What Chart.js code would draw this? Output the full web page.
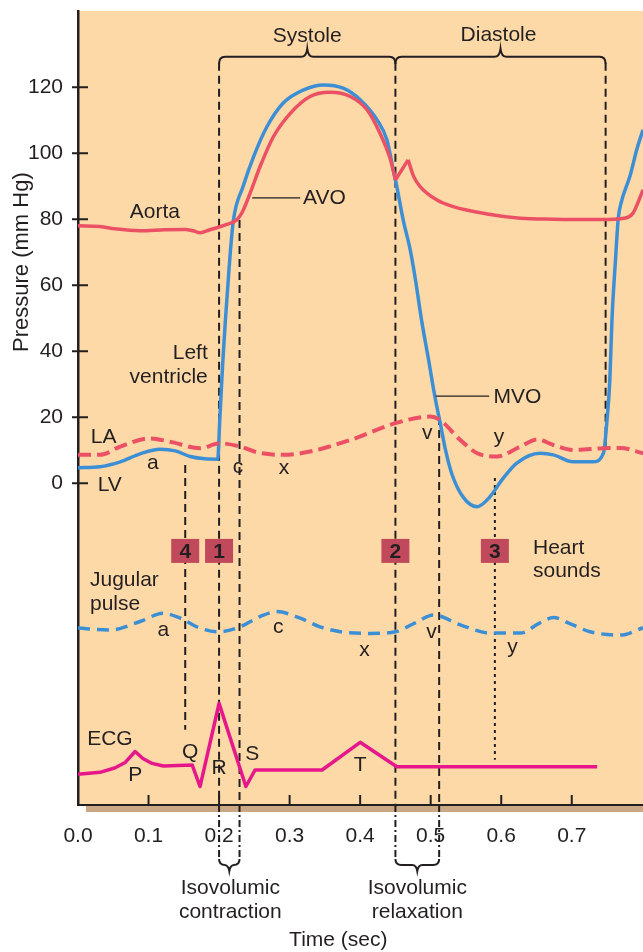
<!doctype html>
<html lang="en">
<head>
<meta charset="UTF-8">
<title>Cardiac cycle</title>
<style>
  html, body { margin: 0; padding: 0; background: #fff; }
  #wrap { width: 643px; height: 952px; }
</style>
</head>
<body>
<div id="wrap"><canvas id="chart" width="643" height="952"></canvas></div>

<script src="https://cdn.jsdelivr.net/npm/chart.js@4.4.0/dist/chart.umd.min.js"></script>
<script>
// values: time in s, pressure in mm Hg
// (jugular pulse and ECG are plotted in the panel's pressure units, where they sit)
const aortaT = [0, 0.031, 0.052, 0.088, 0.123, 0.152, 0.163, 0.173, 0.187, 0.209, 0.225, 0.232, 0.244, 0.258, 0.277, 0.301, 0.329, 0.357, 0.386, 0.410, 0.428, 0.443, 0.450, 0.468, 0.476, 0.485, 0.509, 0.532, 0.580, 0.627, 0.674, 0.740, 0.776, 0.787, 0.801];
const aortaP = [78.0, 77.8, 77.1, 76.5, 76.8, 76.9, 76.5, 75.9, 76.8, 78.3, 79.8, 81.8, 87.9, 95.9, 105.0, 112.1, 117.2, 118.5, 117.2, 113.1, 106.1, 98.0, 91.9, 98.0, 92.9, 89.9, 85.8, 83.8, 81.6, 80.3, 80.0, 79.9, 80.4, 81.9, 88.9];
const aortaCusps = [22, 23]; // incisura and dicrotic peak

const lvT = [0, 0.031, 0.060, 0.088, 0.116, 0.138, 0.159, 0.180, 0.198, 0.201, 0.205, 0.209, 0.214, 0.220, 0.234, 0.249, 0.268, 0.291, 0.320, 0.348, 0.376, 0.400, 0.424, 0.438, 0.447, 0.452, 0.461, 0.471, 0.478, 0.487, 0.497, 0.506, 0.514, 0.521, 0.530, 0.546, 0.566, 0.584, 0.601, 0.622, 0.655, 0.674, 0.702, 0.730, 0.745, 0.750, 0.754, 0.757, 0.762, 0.766, 0.770, 0.783, 0.792, 0.801];
const lvP = [4.7, 5.0, 6.5, 8.9, 10.3, 9.8, 8.1, 7.4, 7.3, 19.2, 35.8, 49.5, 64.6, 79.2, 89.9, 99.0, 108.1, 115.2, 119.2, 120.7, 119.7, 116.2, 110.1, 104.0, 94.9, 89.9, 79.8, 70.7, 62.2, 49.5, 37.4, 26.2, 17.7, 10.1, 2.8, -4.2, -7.1, -4.1, 1.0, 6.1, 9.1, 8.6, 6.5, 6.5, 9.2, 19.2, 31.3, 49.5, 67.7, 80.4, 85.0, 93.4, 101.0, 107.1];

const laT = [0, 0.031, 0.060, 0.102, 0.130, 0.173, 0.201, 0.230, 0.255, 0.291, 0.329, 0.386, 0.450, 0.499, 0.513, 0.542, 0.566, 0.594, 0.627, 0.651, 0.674, 0.702, 0.745, 0.769, 0.801];
const laP = [8.6, 8.6, 11.1, 13.6, 12.6, 10.6, 12.1, 11.1, 9.3, 8.6, 9.6, 13.1, 18.2, 20.2, 19.2, 13.1, 9.1, 8.1, 11.1, 13.3, 11.6, 10.1, 10.6, 10.7, 9.1];

const jugT = [0, 0.045, 0.088, 0.121, 0.145, 0.173, 0.199, 0.230, 0.258, 0.282, 0.315, 0.343, 0.372, 0.414, 0.450, 0.478, 0.504, 0.542, 0.584, 0.627, 0.655, 0.674, 0.698, 0.726, 0.769, 0.801];
const jugP = [-43.9, -44.5, -41.9, -39.4, -40.9, -43.9, -45.0, -43.5, -40.4, -38.9, -40.9, -43.5, -45.0, -45.5, -45.0, -42.3, -39.9, -42.9, -45.4, -45.4, -42.3, -40.7, -42.6, -45.0, -46.0, -43.8];

const ecgT = [0, 0.031, 0.052, 0.067, 0.081, 0.092, 0.105, 0.121, 0.162, 0.173, 0.200, 0.238, 0.251, 0.346, 0.400, 0.452, 0.736];
const ecgP = [-88.2, -87.6, -86.3, -84.6, -81.3, -83.4, -84.9, -85.7, -85.4, -91.9, -66.7, -91.9, -86.9, -86.9, -78.5, -85.9, -85.9];

const xTicks = [0, 0.1, 0.2, 0.3, 0.4, 0.5, 0.6, 0.7];
const yTicks = [0, 20, 40, 60, 80, 100, 120];

const soundT = [0.152, 0.200, 0.450, 0.591];
const soundNames = ['4', '1', '2', '3'];

const FONT = '"Liberation Sans", Arial, Helvetica, sans-serif';
const INK = '#231f20';
const RED = '#ec5064';
const BLUE = '#3d8fd5';

// dashed event lines: time, top and bottom (pressure units); null = down to axis
const guides = [
  {t: 0.152, from: 5.5, to: -74.7},
  {t: 0.200, from: 127.4, to: null, below: true},
  {t: 0.229, from: 79.8, to: null, below: true},
  {t: 0.450, from: 127.4, to: null, below: true},
  {t: 0.512, from: 20.1, to: null, below: true},
  {t: 0.591, from: 1.6, to: -83.8, dotted: true},
  {t: 0.748, from: 127.4, to: 10.1}
];

// text notes: text, time, pressure, align
const notes = [
  ['Aorta', 0.109, 82.2, 'center'],
  ['AVO', 0.319, 86.5, 'left'],
  ['Left', 0.184, 39.5, 'right'],
  ['ventricle', 0.184, 32.2, 'right'],
  ['LA', 0.018, 14.0, 'left'],
  ['LV', 0.028, -0.5, 'left'],
  ['a', 0.106, 6.2, 'center'],
  ['c', 0.227, 4.9, 'center'],
  ['x', 0.292, 4.6, 'center'],
  ['v', 0.495, 15.2, 'center'],
  ['y', 0.597, 14.0, 'center'],
  ['MVO', 0.589, 26.2, 'left'],
  ['Heart', 0.645, -19.6, 'left'],
  ['sounds', 0.645, -26.6, 'left'],
  ['Jugular', 0.017, -29.3, 'left'],
  ['pulse', 0.017, -36.6, 'left'],
  ['a', 0.121, -44.5, 'center'],
  ['c', 0.284, -43.5, 'center'],
  ['x', 0.406, -50.5, 'center'],
  ['v', 0.501, -45.1, 'center'],
  ['y', 0.616, -49.6, 'center'],
  ['ECG', 0.013, -77.5, 'left'],
  ['P', 0.081, -88.6, 'center'],
  ['Q', 0.159, -81.4, 'center'],
  ['R', 0.200, -86.2, 'center'],
  ['S', 0.247, -82.2, 'center'],
  ['T', 0.400, -85.5, 'center']
];

function pts(ts, ps) { return ts.map((t, i) => ({x: t, y: ps[i]})); }

function line(data, color, extra) {
  return Object.assign({
    data: data, borderColor: color, borderWidth: 3.5, pointRadius: 0, fill: false,
    tension: 0.4, cubicInterpolationMode: 'monotone', borderJoinStyle: 'round'
  }, extra || {});
}

// aorta is split at the incisura so the notch keeps its sharp corners
const aortaParts = [];
let start = 0;
aortaCusps.concat([aortaT.length - 1]).forEach(end => {
  aortaParts.push(pts(aortaT.slice(start, end + 1), aortaP.slice(start, end + 1)));
  start = end;
});

const datasets = [
  line(pts(laT, laP), RED, {borderWidth: 4, borderDash: [13, 6]}),
  line(pts(jugT, jugP), BLUE, {borderWidth: 3.5, borderDash: [12, 7]}),
  line(aortaParts[0], RED),
  line(aortaParts[1], RED, {tension: 0, cubicInterpolationMode: 'default'}),
  line(aortaParts[2], RED),
  line(pts(lvT, lvP), BLUE),
  line(pts(ecgT, ecgP), '#e5178a', {tension: 0, cubicInterpolationMode: 'default'})
];

const SIZE = 21;

function text(ctx, s, x, y, align, font) {
  ctx.font = font || (SIZE + 'px ' + FONT);
  ctx.textAlign = align || 'center';
  ctx.textBaseline = 'middle';
  ctx.fillText(s, x, y);
}

function topBrace(ctx, x1, x2, y) {
  const xm = (x1 + x2) / 2;
  ctx.beginPath();
  ctx.moveTo(x1, y + 7);
  ctx.quadraticCurveTo(x1, y, x1 + 6, y);
  ctx.lineTo(xm - 6, y);
  ctx.quadraticCurveTo(xm - 1, y, xm, y - 8);
  ctx.quadraticCurveTo(xm + 1, y, xm + 6, y);
  ctx.lineTo(x2 - 6, y);
  ctx.quadraticCurveTo(x2, y, x2, y + 7);
  ctx.stroke();
}

function bottomBrace(ctx, x1, x2, y) {
  const xm = (x1 + x2) / 2;
  ctx.beginPath();
  ctx.moveTo(x1, y);
  ctx.quadraticCurveTo(x1, y + 6, x1 + 6, y + 6);
  ctx.lineTo(xm - 5, y + 6);
  ctx.quadraticCurveTo(xm - 1, y + 6, xm, y + 12);
  ctx.quadraticCurveTo(xm + 1, y + 6, xm + 5, y + 6);
  ctx.lineTo(x2 - 6, y + 6);
  ctx.quadraticCurveTo(x2, y + 6, x2, y);
  ctx.stroke();
}

const decor = {
  id: 'decor',
  beforeDraw(chart) {
    const {ctx, chartArea: a} = chart;
    ctx.save();
    ctx.fillStyle = '#fdd9a8';
    ctx.fillRect(a.left, a.top, a.right - a.left, a.bottom - a.top);
    ctx.fillStyle = '#c9a883';
    ctx.fillRect(a.left + 8, a.bottom, a.right - a.left - 8, 7);
    ctx.restore();
  },
  beforeDatasetsDraw(chart) {
    const {ctx, chartArea: a, scales: {x, y}} = chart;
    ctx.save();
    ctx.strokeStyle = INK;
    ctx.lineWidth = 2;
    guides.forEach(g => {
      const px = x.getPixelForValue(g.t);
      ctx.setLineDash(g.dotted ? [3, 4] : [8, 5]);
      ctx.beginPath();
      ctx.moveTo(px, y.getPixelForValue(g.from));
      ctx.lineTo(px, g.to === null ? a.bottom : y.getPixelForValue(g.to));
      ctx.stroke();
      if (g.below) {
        ctx.setLineDash([7, 3, 2, 3]);
        ctx.beginPath();
        ctx.moveTo(px, a.bottom);
        ctx.lineTo(px, a.bottom + 54);
        ctx.stroke();
      }
    });
    ctx.restore();
  },
  afterDraw(chart) {
    const {ctx, chartArea: a, scales: {x, y}} = chart;
    ctx.save();
    ctx.strokeStyle = INK;
    ctx.fillStyle = INK;
    ctx.lineWidth = 2;
    ctx.setLineDash([]);

    // tick marks: y crossing the axis, x pointing up into the panel
    yTicks.forEach(v => {
      const py = y.getPixelForValue(v);
      ctx.beginPath(); ctx.moveTo(a.left - 6, py); ctx.lineTo(a.left + 10, py); ctx.stroke();
    });
    xTicks.slice(1).forEach(v => {
      const px = x.getPixelForValue(v);
      ctx.beginPath(); ctx.moveTo(px, a.bottom - 10); ctx.lineTo(px, a.bottom); ctx.stroke();
    });

    // systole / diastole brackets
    const bY = y.getPixelForValue(129.2);
    const s0 = x.getPixelForValue(0.200), s1 = x.getPixelForValue(0.450), d1 = x.getPixelForValue(0.748);
    topBrace(ctx, s0, s1, bY);
    topBrace(ctx, s1, d1, bY);
    text(ctx, 'Systole', (s0 + s1) / 2, bY - 21);
    text(ctx, 'Diastole', (s1 + d1) / 2 - 2, bY - 22);

    // valve leader lines
    ctx.lineWidth = 1.3;
    ctx.beginPath();
    ctx.moveTo(x.getPixelForValue(0.247), y.getPixelForValue(86.5));
    ctx.lineTo(x.getPixelForValue(0.315), y.getPixelForValue(86.5));
    ctx.moveTo(x.getPixelForValue(0.507), y.getPixelForValue(26.4));
    ctx.lineTo(x.getPixelForValue(0.583), y.getPixelForValue(26.4));
    ctx.stroke();
    ctx.lineWidth = 2;

    // isovolumic braces under the axis
    const c0 = x.getPixelForValue(0.200), c1 = x.getPixelForValue(0.229);
    const r0 = x.getPixelForValue(0.450), r1 = x.getPixelForValue(0.512);
    bottomBrace(ctx, c0, c1, a.bottom + 54);
    bottomBrace(ctx, r0, r1, a.bottom + 54);
    text(ctx, 'Isovolumic', (c0 + c1) / 2 + 1, a.bottom + 83);
    text(ctx, 'contraction', (c0 + c1) / 2 + 1, a.bottom + 107);
    text(ctx, 'Isovolumic', (r0 + r1) / 2, a.bottom + 83);
    text(ctx, 'relaxation', (r0 + r1) / 2, a.bottom + 107);
    text(ctx, 'Time (sec)', x.getPixelForValue(0.369), a.bottom + 135);

    // y title
    ctx.save();
    ctx.translate(22, y.getPixelForValue(67));
    ctx.rotate(-Math.PI / 2);
    text(ctx, 'Pressure (mm Hg)', 0, 0, 'center', '22px ' + FONT);
    ctx.restore();

    notes.forEach(n => text(ctx, n[0], x.getPixelForValue(n[1]), y.getPixelForValue(n[2]), n[3]));

    // heart sound boxes
    const hy = y.getPixelForValue(-20.5);
    soundT.forEach((t, i) => {
      const px = x.getPixelForValue(t);
      ctx.fillStyle = '#c04a5b';
      ctx.fillRect(px - 14, hy - 12, 28, 24);
      ctx.fillStyle = INK;
      text(ctx, soundNames[i], px, hy + 1, 'center', 'bold ' + SIZE + 'px ' + FONT);
    });
    ctx.restore();
  }
};

// keep the panel exactly where the figure has it
function noPad(s) { s.paddingTop = 0; s.paddingBottom = 0; s.paddingLeft = 0; s.paddingRight = 0; }

new Chart(document.getElementById('chart'), {
  type: 'line',
  data: {datasets: datasets},
  options: {
    responsive: false,
    animation: false,
    devicePixelRatio: 1,
    layout: {padding: {top: 11, left: 0, right: 0, bottom: 0}},
    plugins: {legend: {display: false}, tooltip: {enabled: false}},
    scales: {
      x: {
        type: 'linear', min: 0, max: 0.801,
        grid: {display: false},
        border: {display: true, color: INK, width: 2},
        afterBuildTicks: s => { s.ticks = xTicks.map(v => ({value: v})); },
        afterFit: s => { s.height = 147; noPad(s); },
        ticks: {
          color: INK, padding: 13, maxRotation: 0, autoSkip: false,
          font: {family: FONT, size: SIZE, lineHeight: 1},
          callback: v => v.toFixed(1)
        }
      },
      y: {
        type: 'linear', min: -97.5, max: 143.1,
        grid: {display: false},
        border: {display: true, color: INK, width: 2.5},
        afterBuildTicks: s => { s.ticks = yTicks.map(v => ({value: v})); },
        afterFit: s => { s.width = 78; noPad(s); },
        ticks: {
          color: INK, padding: 7,
          font: {family: FONT, size: SIZE, lineHeight: 1}
        }
      }
    }
  },
  plugins: [decor]
});
</script>
</body>
</html>
